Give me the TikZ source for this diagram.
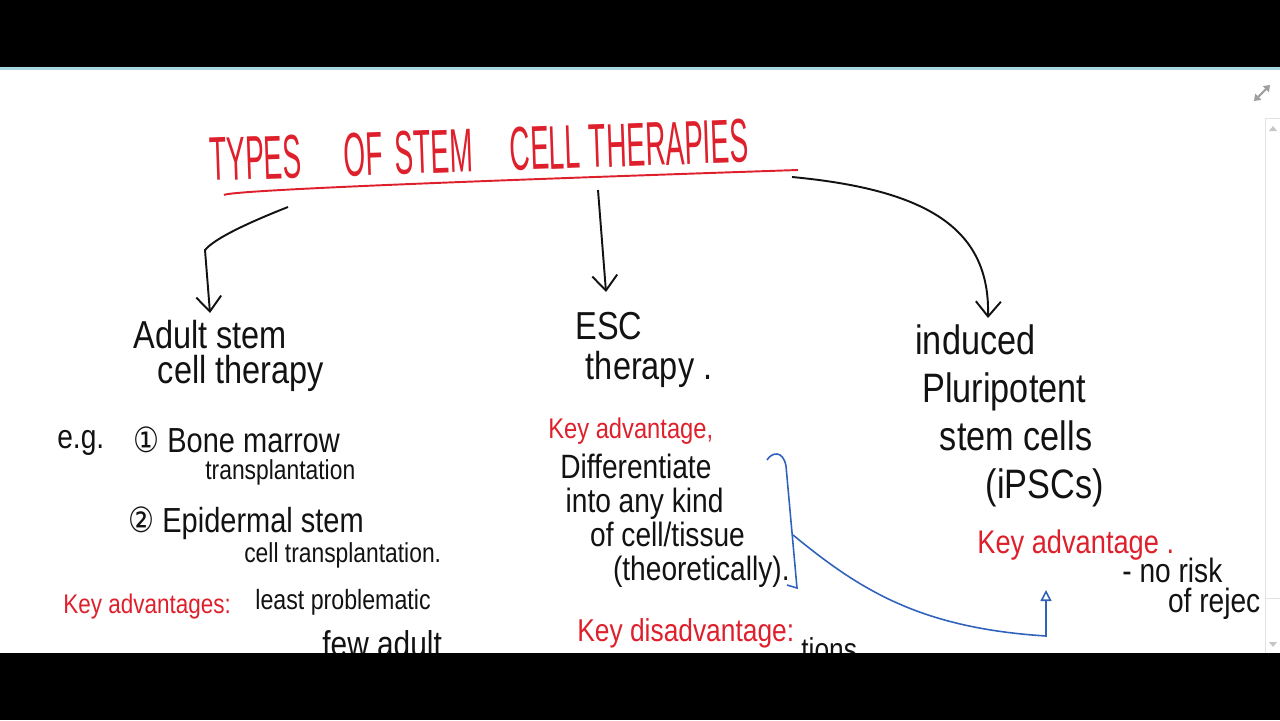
\documentclass[tikz,border=0pt]{standalone}
\usepackage{fontspec}
\setmainfont{Liberation Sans}
\newfontfamily\circfont{DejaVu Sans}
\usepackage{xcolor}
\usepackage{tikz}
\usetikzlibrary{arrows.meta, positioning, calc}
\definecolor{cInkRed}{RGB}{222,32,44}
\definecolor{cInkBlue}{RGB}{48,98,188}
\definecolor{cInk}{RGB}{18,18,18}
\definecolor{cRule}{RGB}{168,214,226}
\definecolor{cPanel}{RGB}{226,226,226}
\newcommand{\hw}[2]{\fontsize{#1}{#2}\selectfont\lineskiplimit=-60pt\relax}
\tikzset{
	note/.style     ={inner sep=0pt, anchor=north west, align=left, text=cInk, yscale=1.2},
	rednote/.style  ={note, text=cInkRed},
	headline/.style ={inner sep=0pt, anchor=base west, text=cInkRed, font=\hw{16}{16}},
	penarrow/.style ={-{Straight Barb[length=3mm, width=5mm]}, line width=1.1pt, cInk},
	redpen/.style   ={line width=1.1pt, cInkRed},
	bluepen/.style  ={line width=0.9pt, cInkBlue},
}

\begin{document}
\begin{tikzpicture}[x=0.02cm, y=-0.02cm]
	\useasboundingbox (0,0) rectangle (1280,720);
	\node[headline, rotate=2, yscale=2.2] (title) at (210,181) {TYPES\hspace{24pt}OF\hspace{7pt}STEM\hspace{21pt}CELL\hspace{5pt}THERAPIES};
	\draw[redpen] (224,195) .. controls (230,190) and (500,180) .. (798,170);
	\node[note, font=\hw{18.5}{16.4}] (adult) at (133,320) {Adult stem\\\hspace*{14pt}cell therapy};
	\node[note, font=\hw{18.5}{19}] (esc) at (575,312) {ESC\\\hspace*{6pt}therapy .};
	\node[note, font=\hw{19.5}{22.8}] (ipsc) at (915,324) {induced\\\hspace*{4pt}Pluripotent\\\hspace*{14pt}stem cells\\\hspace*{40pt}(iPSCs)};
	\node[note, font=\hw{16}{16}] (eg) at (57,430) {e.g.};
	\node[note, font=\hw{16.5}{12.8}] (bone) at (133,426) {{\circfont ①}\ Bone marrow\\\hspace*{41pt}{\fontsize{13}{12.8}\selectfont transplantation}};
	\node[note, font=\hw{16.5}{14.2}] (epi) at (128,506) {{\circfont ②}\ Epidermal stem\\\hspace*{66pt}{\fontsize{13}{14.2}\selectfont cell transplantation.}};
	\node[rednote, font=\hw{12.8}{12}] (adv1) at (63,594) {Key advantages:};
	\node[note, font=\hw{13.2}{12}] (least) at (255,589) {least problematic};
	\node[note, font=\hw{17}{12}] (few) at (322,630) {few adult};
	\node[rednote, font=\hw{13.5}{12}] (adv2) at (548,417) {Key advantage,};
	\node[note, font=\hw{16}{16.1}] (diff) at (560,454) {Differentiate\\\hspace*{3pt}into any kind\\\hspace*{17pt}of cell/tissue\\\hspace*{30pt}(theoretically).};
	\node[rednote, font=\hw{15.5}{12}] (adv3) at (977,529) {Key advantage .};
	\node[note, font=\hw{16}{14.2}] (risk) at (1122,558) {- no risk\\\hspace*{26pt}of rejec};
	\node[rednote, font=\hw{15}{12}] (dis) at (577,618) {Key disadvantage:};
	\node[note, font=\hw{15}{12}] (tions) at (801,637) {tions};
	\coordinate (t1) at (288,207);
	\coordinate (t2) at (598,190);
	\coordinate (t3) at (792,177);
	\draw[penarrow] (t1) .. controls (250,222) and (215,238) .. (205,250) -- ($(adult.north west)+(77,-7)$);
	\draw[penarrow] (t2) -- ($(esc.north west)+(31,-20)$);
	\draw[penarrow] (t3) .. controls (930,190) and (990,230) .. ($(ipsc.north west)+(73,-6)$);
	\draw[bluepen] (767,460) .. controls (772,452) and (783,450) .. (786,466) -- (797,588) -- (787,585);
	\coordinate (brk) at (793,535);
	\coordinate (tipB) at (1046,590);
	\draw[bluepen, -{Triangle[open, length=2.2mm, width=2.2mm]}] (brk) .. controls (860,590) and (920,628) .. (1046,636) -- (tipB);
	\fill[black] (0,0) rectangle (1280,67);
	\fill[cRule] (0,67) rectangle (1280,69.5);
	\fill[black] (0,653) rectangle (1280,720);
	\draw[gray!75, line width=1.2pt, {Triangle[length=1.2mm, width=1.7mm]}-{Triangle[length=1.2mm, width=1.7mm]}] (1254,101) -- (1270,85);
	\draw[cPanel] (1280,118) -- (1265,118) -- (1265,653);
	\draw[cPanel] (1265,598) -- (1280,598);
	\fill[gray!45] (1269,131) -- (1277,131) -- (1273,126) -- cycle;
	\fill[gray!45] (1269,642) -- (1277,642) -- (1273,647) -- cycle;
\end{tikzpicture}
\end{document}
